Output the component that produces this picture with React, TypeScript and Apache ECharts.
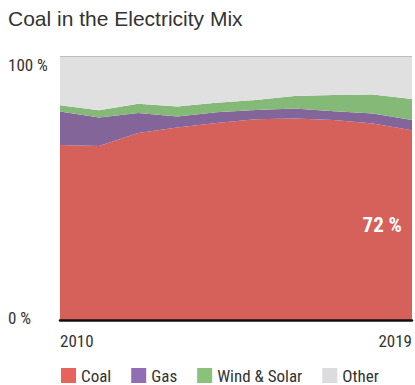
import React, { useEffect, useRef } from "react";
import * as echarts from "echarts";

const years = ["2010", "2011", "2012", "2013", "2014", "2015", "2016", "2017", "2018", "2019"];
const coal = [66.5, 66.1, 71.0, 73.1, 74.8, 76.2, 76.5, 75.9, 74.6, 72.1];
const gas = [12.7, 10.8, 7.6, 4.2, 4.1, 3.5, 3.8, 3.4, 3.8, 3.8];
const windSolar = [2.3, 2.7, 3.5, 3.8, 3.6, 3.8, 4.7, 6.1, 7.2, 8.0];
const other = [18.5, 20.4, 17.9, 18.9, 17.5, 16.5, 15.0, 14.6, 14.4, 16.1];
const yTicks = [0, 100];
const xShownLabels = ["2010", "2019"];
const seriesNames = ["Coal", "Gas", "Wind & Solar", "Other"];

const areaColors = ["#d6605a", "#84659a", "#85b978", "#e0e0e0"];
const legendColors = ["#e8645a", "#916eb4", "#8ac27a", "#dcdcde"];

const NARROW = "'Liberation Sans Narrow', 'Roboto Condensed', Roboto, sans-serif";
const SANS = "'Liberation Sans', Arial, Helvetica, sans-serif";

export default function App() {
  const ref = useRef<HTMLDivElement>(null);

  useEffect(() => {
    if (!ref.current) return;
    const chart = echarts.init(ref.current, undefined, { renderer: "svg" });
    const values = [coal, gas, windSolar, other];
    const last = years.length - 1;

    const series = values.map((arr, si) => ({
      name: seriesNames[si],
      type: "line",
      stack: "total",
      symbol: "circle",
      symbolSize: 0,
      showSymbol: si === 0,
      lineStyle: { width: 0 },
      itemStyle: { color: areaColors[si] },
      areaStyle: { color: areaColors[si], opacity: 1 },
      emphasis: { disabled: true },
      label: { show: false },
      data: arr.map((v, i) =>
        si === 0 && i === last
          ? {
              value: v,
              label: {
                show: true,
                position: "left",
                distance: 10,
                offset: [0, 95],
                formatter: (p: any) => `${Math.round(p.value)} %`,
                color: "#ffffff",
                fontSize: 21,
                fontWeight: "bold",
                fontFamily: NARROW,
              },
            }
          : v
      ),
      z: 2,
    }));

    chart.setOption({
      animation: false,
      title: {
        text: "Coal in the Electricity Mix",
        left: 8,
        top: 8,
        padding: 0,
        textStyle: { color: "#333", fontSize: 21, fontWeight: "normal", fontFamily: SANS },
      },
      legend: {
        left: 61,
        top: 367,
        padding: 0,
        icon: "rect",
        itemWidth: 15,
        itemHeight: 15,
        itemGap: 20,
        selectedMode: false,
        textStyle: { color: "#333", fontSize: 17, fontFamily: NARROW },
        data: seriesNames.map((n, i) => ({ name: n, itemStyle: { color: legendColors[i] } })),
      },
      grid: { left: 60, right: 3, top: 56.5, bottom: 64.5 },
      xAxis: {
        type: "category",
        data: years,
        boundaryGap: false,
        axisTick: { show: false },
        axisLine: { show: true, lineStyle: { color: "#111", width: 2.5 } },
        splitLine: { show: false },
        axisLabel: {
          interval: (_i: number, v: string) => xShownLabels.includes(v),
          alignMinLabel: "left",
          alignMaxLabel: "right",
          margin: 12,
          color: "#333",
          fontSize: 17,
          fontFamily: NARROW,
        },
        z: 5,
      },
      yAxis: {
        type: "value",
        min: yTicks[0],
        max: yTicks[yTicks.length - 1],
        interval: yTicks[yTicks.length - 1] - yTicks[0],
        axisLine: { show: false },
        axisTick: { show: false },
        splitLine: { show: true, lineStyle: { color: "#b4b4b4", width: 1 } },
        axisLabel: {
          align: "left",
          margin: 52,
          formatter: (v: number) => (v === yTicks[yTicks.length - 1] ? `{top|${v} %}` : `{bot|${v} %}`),
          rich: {
            top: { padding: [17, 0, 0, 0], color: "#333", fontSize: 17, fontFamily: NARROW },
            bot: { padding: [0, 0, 6, 0], color: "#333", fontSize: 17, fontFamily: NARROW },
          },
        },
      },
      series,
    });

    return () => chart.dispose();
  }, []);

  return (
    <div
      ref={ref}
      style={{ position: "fixed", left: 0, top: 0, width: 415, height: 385, background: "#fff" }}
    />
  );
}
